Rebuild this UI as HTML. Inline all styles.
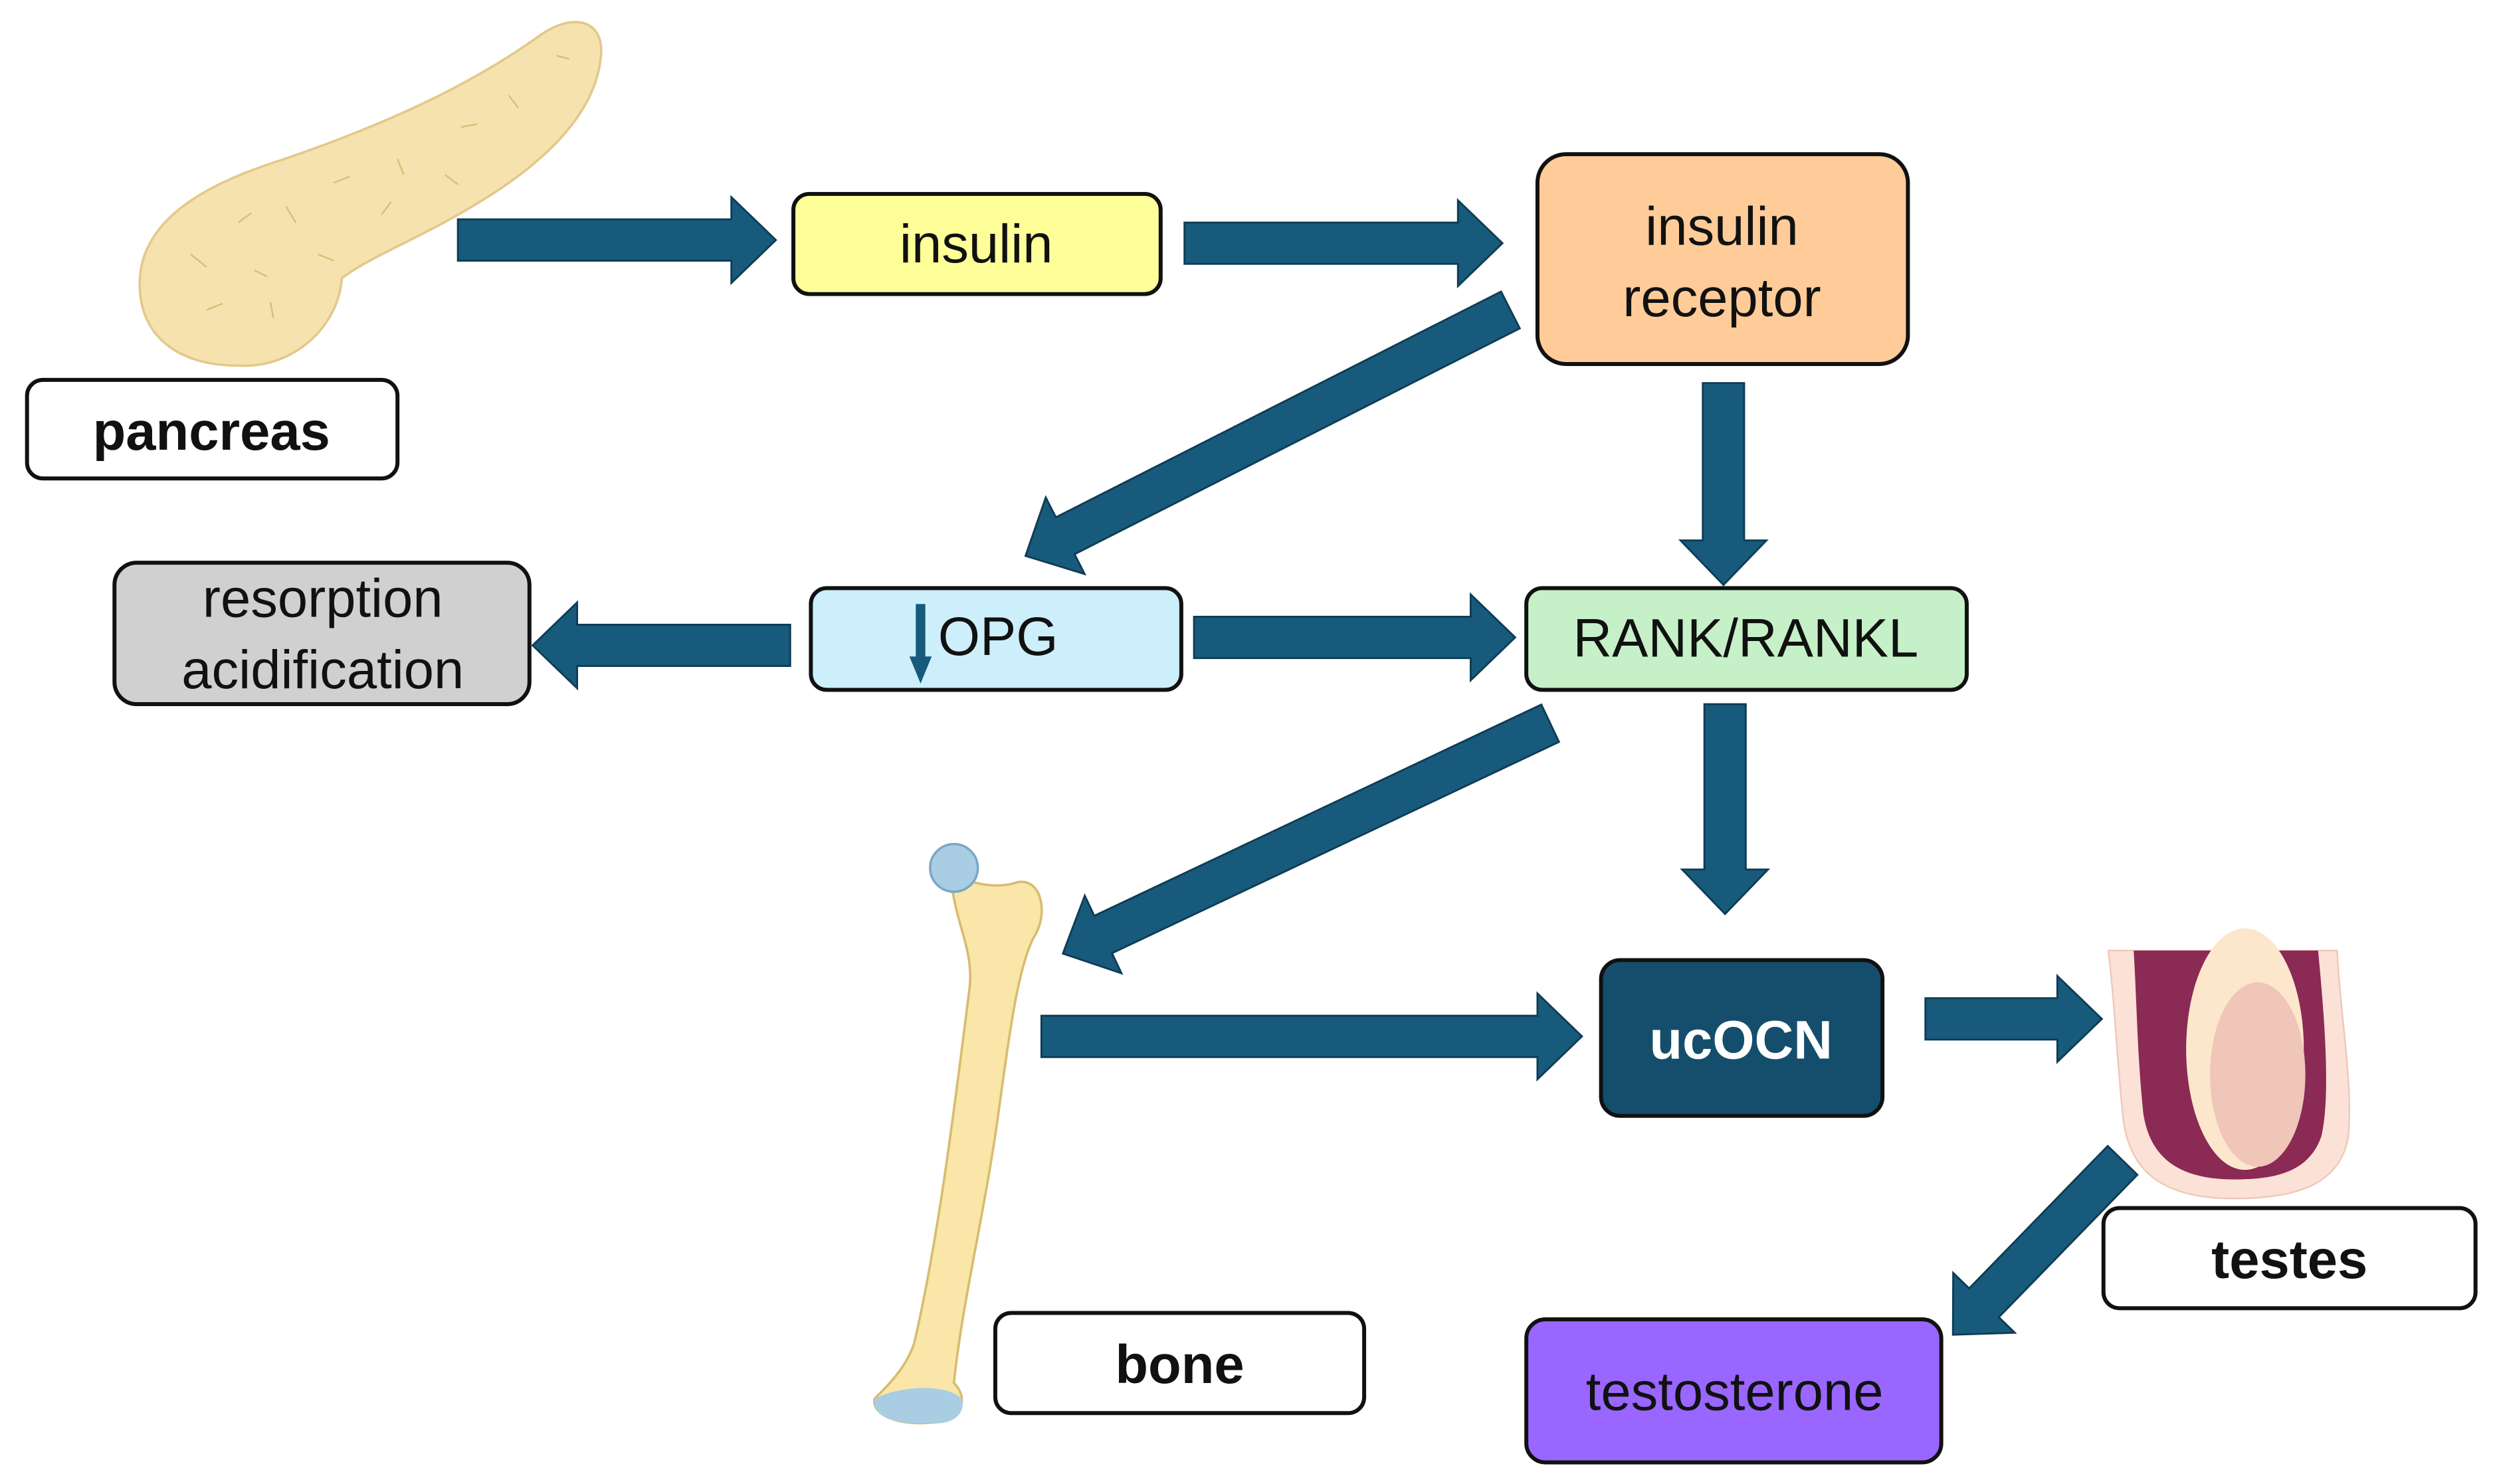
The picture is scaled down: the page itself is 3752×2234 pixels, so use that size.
<!DOCTYPE html>
<html><head><meta charset="utf-8"><style>
html,body{margin:0;padding:0;background:#fff;}
svg{display:block;}
text{font-family:"Liberation Sans",sans-serif;}
</style></head><body>
<svg width="3752" height="2234" viewBox="0 0 1568 933.6" preserveAspectRatio="none" xmlns="http://www.w3.org/2000/svg">
<rect width="1568" height="934" fill="#fff"/>
<!-- pancreas -->
<path d="M88,175 C90,140 125,118 170,103 C230,83 290,58 340,22 C360,8 380,12 378,35 C375,70 345,100 305,125 C265,150 235,160 215,175 C213,205 185,232 150,230 C105,230 86,205 88,175 Z" fill="#f6e2ae" stroke="#e2c98a" stroke-width="1.5"/>
<g stroke="#d9bd7a" stroke-width="1" fill="none">
<path d="M120,160 l10,8 M150,140 l8,-6 M180,130 l6,10 M210,115 l10,-4 M250,100 l4,10 M290,80 l10,-2 M320,60 l6,8 M350,35 l8,2 M130,195 l10,-4 M170,190 l2,10 M200,160 l10,4 M240,135 l6,-8 M280,110 l8,6 M160,170 l8,4"/>
</g>
<!-- bone -->
<path d="M598,550 C610,555 625,560 640,555 C655,552 660,575 650,590 C640,610 635,650 628,700 C620,760 605,820 600,870 C610,880 605,895 585,895 C565,897 548,890 550,880 C560,870 570,860 575,845 C590,780 600,700 610,620 C612,595 600,580 598,550 Z" fill="#f9e6a8" stroke="#d8bc6e" stroke-width="1.5"/>
<circle cx="600" cy="546" r="15" fill="#a9cde3" stroke="#7aa8c6" stroke-width="1.5"/>
<path d="M550,880 C565,872 595,870 605,880 C608,892 595,897 585,895 C565,897 548,892 550,880 Z" fill="#a9cde3"/>
<!-- testes -->
<path d="M1326,598 L1470,598 C1472,640 1480,680 1477,715 C1472,745 1445,754 1405,754 C1360,754 1338,737 1335,700 C1331,660 1330,630 1326,598 Z" fill="#fbe1d6" stroke="#f0c8b8"/>
<path d="M1342,598 L1458,598 C1462,640 1466,690 1460,715 C1452,738 1430,742 1405,742 C1370,742 1352,728 1348,700 C1344,660 1344,630 1342,598 Z" fill="#8a2a55"/>
<ellipse cx="1412" cy="660" rx="37" ry="76" fill="#fde7cc"/>
<ellipse cx="1420" cy="676" rx="30" ry="58" fill="#efc6b8"/>
<!-- arrows -->
<g fill="#185a7c" stroke="#0e3c55" stroke-width="1.2">
<g transform="translate(288,151)"><polygon points="0,-13 172,-13 172,-27 200,0 172,27 172,13 0,13"/></g>
<g transform="translate(745,153)"><polygon points="0,-13 172,-13 172,-27 200,0 172,27 172,13 0,13"/></g>
<g transform="translate(950,195) rotate(153.1)"><polygon points="0,-13 314,-13 314,-27 342,0 314,27 314,13 0,13"/></g>
<g transform="translate(1084,241) rotate(90)"><polygon points="0,-13 99,-13 99,-27 127,0 99,27 99,13 0,13"/></g>
<g transform="translate(497,406) rotate(180)"><polygon points="0,-13 134,-13 134,-27 162,0 134,27 134,13 0,13"/></g>
<g transform="translate(751,401)"><polygon points="0,-13 174,-13 174,-27 202,0 174,27 174,13 0,13"/></g>
<g transform="translate(975,455) rotate(154.7)"><polygon points="0,-13 311,-13 311,-27 339,0 311,27 311,13 0,13"/></g>
<g transform="translate(1085,443) rotate(90)"><polygon points="0,-13 104,-13 104,-27 132,0 104,27 104,13 0,13"/></g>
<g transform="translate(655,652)"><polygon points="0,-13 312,-13 312,-27 340,0 312,27 312,13 0,13"/></g>
<g transform="translate(1211,641)"><polygon points="0,-13 83,-13 83,-27 111,0 83,27 83,13 0,13"/></g>
<g transform="translate(1335,730) rotate(134.2)"><polygon points="0,-13 125,-13 125,-27 153,0 125,27 125,13 0,13"/></g>
</g>
<!-- boxes -->
<g stroke="#111" stroke-width="2.5">
<rect x="17" y="239" width="233" height="62" rx="10" fill="#fff"/>
<rect x="499" y="122" width="231" height="63" rx="10" fill="#ffff99"/>
<rect x="967" y="97" width="233" height="132" rx="18" fill="#ffcc99"/>
<rect x="72" y="354" width="261" height="89" rx="14" fill="#d0d0d0"/>
<rect x="510" y="370" width="233" height="64" rx="10" fill="#cdeefb"/>
<rect x="960" y="370" width="277" height="64" rx="10" fill="#c6f1c8"/>
<rect x="1007" y="604" width="177" height="98" rx="12" fill="#144e6c"/>
<rect x="1323" y="760" width="234" height="63" rx="10" fill="#fff"/>
<rect x="626" y="826" width="232" height="63" rx="10" fill="#fff"/>
<rect x="960" y="830" width="261" height="90" rx="12" fill="#9966ff"/>
</g>
<rect x="576" y="380" width="6" height="34" fill="#185a7c"/>
<polygon points="572,413 586,413 579,430" fill="#185a7c"/>
<!-- labels -->
<g font-size="34" text-anchor="middle" fill="#111">
<text x="133" y="283" font-weight="bold">pancreas</text>
<text x="614" y="165">insulin</text>
<text x="1083" y="154">insulin</text>
<text x="1083" y="199">receptor</text>
<text x="203" y="388">resorption</text>
<text x="203" y="433">acidification</text>
<text x="590" y="412" text-anchor="start">OPG</text>
<text x="1098" y="413">RANK/RANKL</text>
<text x="1095" y="666" font-weight="bold" fill="#fff">ucOCN</text>
<text x="1440" y="804" font-weight="bold">testes</text>
<text x="742" y="870" font-weight="bold">bone</text>
<text x="1091" y="887">testosterone</text>
</g>
</svg>
</body></html>
